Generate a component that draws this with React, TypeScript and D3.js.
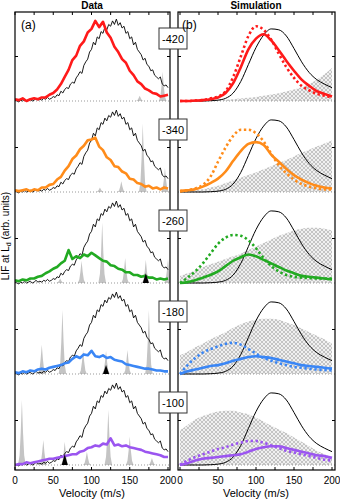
import * as d3 from 'd3';

// row labels and colours, top to bottom
const rowLabels = ['-420', '-340', '-260', '-180', '-100'];
const rowColors = ['#ff1a1a', '#ff8c1a', '#22aa22', '#3a86f5', '#9b55f0'];

const majorTicks = [0, 50, 100, 150, 200];
const minorTicks = [25, 75, 125, 175];

// measured reference signal (black), 2.5 m/s steps, same in every row
const refStep = 2.5;
const refData = [
  0.01, 0.0, -0.01, 0.01, 0.0, 0.02, 0.0, 0.01, 0.02, 0.0,
  0.01, 0.03, 0.01, 0.02, 0.01, 0.03, 0.02, 0.04, 0.02, 0.03,
  0.05, 0.04, 0.07, 0.06, 0.11, 0.09, 0.13, 0.15, 0.14, 0.19,
  0.21, 0.2, 0.26, 0.29, 0.33, 0.31, 0.4, 0.44, 0.47, 0.55,
  0.58, 0.66, 0.63, 0.72, 0.7, 0.78, 0.76, 0.83, 0.8, 0.86,
  0.84, 0.9, 0.86, 0.92, 0.85, 0.88, 0.82, 0.84, 0.76, 0.78,
  0.7, 0.72, 0.63, 0.66, 0.58, 0.55, 0.52, 0.46, 0.48, 0.41,
  0.39, 0.34, 0.35, 0.29, 0.27, 0.25, 0.27, 0.19, 0.17, 0.18, 0.15
];

// measured signals per row, 5 m/s steps
const dataStep = 5;
const data420 = [
  0.02, 0.01, 0.03, 0.0, 0.02, 0.03, 0.02, 0.04, 0.04, 0.07,
  0.09, 0.13, 0.19, 0.27, 0.35, 0.46, 0.51, 0.62, 0.67, 0.77,
  0.81, 0.9, 0.83, 0.89, 0.77, 0.71, 0.61, 0.55, 0.47, 0.43,
  0.34, 0.29, 0.22, 0.19, 0.14, 0.12, 0.09, 0.08, 0.05, 0.06, 0.07
];
const data340 = [
  0.02, 0.01, 0.02, 0.03, 0.01, 0.03, 0.02, 0.05, 0.05, 0.08,
  0.09, 0.14, 0.17, 0.24, 0.29, 0.37, 0.41, 0.48, 0.52, 0.58,
  0.59, 0.61, 0.51, 0.47, 0.39, 0.36, 0.29, 0.28, 0.23, 0.21,
  0.15, 0.14, 0.1, 0.09, 0.06, 0.07, 0.04, 0.05, 0.03, 0.05, 0.04
];
const data260 = [
  0.03, 0.02, 0.04, 0.03, 0.05, 0.05, 0.07, 0.08, 0.11, 0.13,
  0.16, 0.18, 0.22, 0.25, 0.37, 0.27, 0.3, 0.28, 0.32, 0.3,
  0.34, 0.31, 0.28, 0.25, 0.24, 0.2, 0.19, 0.16, 0.15, 0.12,
  0.12, 0.09, 0.09, 0.07, 0.08, 0.06, 0.06, 0.04, 0.05, 0.04, 0.05
];
const data180 = [
  0.02, 0.01, 0.03, 0.02, 0.04, 0.03, 0.05, 0.06, 0.05, 0.07,
  0.08, 0.09, 0.1, 0.12, 0.13, 0.17, 0.2, 0.18, 0.22, 0.21,
  0.26, 0.2, 0.19, 0.21, 0.18, 0.19, 0.16, 0.15, 0.14, 0.11,
  0.1, 0.09, 0.08, 0.07, 0.06, 0.06, 0.05, 0.04, 0.04, 0.03, 0.03
];
const data100 = [
  0.0, 0.01, 0.01, 0.03, 0.02, 0.03, 0.04, 0.05, 0.06, 0.07,
  0.07, 0.08, 0.09, 0.1, 0.11, 0.12, 0.12, 0.15, 0.16, 0.19,
  0.2, 0.22, 0.21, 0.24, 0.23, 0.3, 0.22, 0.23, 0.21, 0.22,
  0.2, 0.19, 0.18, 0.17, 0.15, 0.14, 0.13, 0.12, 0.11, 0.09, 0.09
];

// gray peaks [velocity, height] and black markers
const peaks420 = [[163, 0.06], [193, 0.33]];
const peaks340 = [[111, 0.05], [139, 0.12], [167, 0.77], [196, 0.27]];
const peaks260 = [[59, 0.05], [87, 0.25], [114, 0.68], [144, 0.28], [171, 0.26], [200, 0.27]];
const peaks180 = [[35, 0.33], [62, 0.72], [89, 0.27], [119, 0.26], [147, 0.27], [175, 0.72]];
const peaks100 = [[9, 0.73], [37, 0.28], [65, 0.26], [94, 0.15], [122, 0.62], [150, 0.32], [179, 0.08]];
const marks260 = [[171, 0.11]];
const marks180 = [[119, 0.1]];
const marks100 = [[65, 0.12]];

// simulation, 10 m/s steps
const simStep = 10;
const simRef = [0, 0, 0, 0, 0.003, 0.01, 0.03, 0.09, 0.22, 0.41, 0.6, 0.74, 0.81, 0.8, 0.73, 0.59, 0.44, 0.32, 0.24, 0.19, 0.15];

const sim420 = [0, 0, 0.005, 0.01, 0.02, 0.04, 0.09, 0.2, 0.38, 0.58, 0.7, 0.75, 0.68, 0.57, 0.45, 0.34, 0.24, 0.17, 0.11, 0.08, 0.05];
const sim420Dot = [0, 0, 0.005, 0.01, 0.03, 0.05, 0.11, 0.27, 0.5, 0.73, 0.84, 0.8, 0.69, 0.53, 0.38, 0.26, 0.17, 0.12, 0.08, 0.06, 0.04];
const hatch420 = [0, 0.002, 0.004, 0.006, 0.008, 0.011, 0.015, 0.02, 0.028, 0.036, 0.046, 0.058, 0.072, 0.088, 0.106, 0.128, 0.155, 0.19, 0.24, 0.3, 0.37];

const sim340 = [0.01, 0.02, 0.03, 0.06, 0.1, 0.15, 0.23, 0.35, 0.46, 0.54, 0.56, 0.53, 0.42, 0.34, 0.26, 0.19, 0.14, 0.1, 0.07, 0.05, 0.04];
const sim340Dot = [0.01, 0.02, 0.04, 0.08, 0.17, 0.34, 0.5, 0.63, 0.7, 0.7, 0.66, 0.57, 0.43, 0.3, 0.21, 0.14, 0.09, 0.06, 0.04, 0.03, 0.03];
const hatch340 = [0, 0.01, 0.02, 0.03, 0.05, 0.07, 0.1, 0.13, 0.16, 0.19, 0.22, 0.255, 0.29, 0.325, 0.36, 0.4, 0.44, 0.475, 0.51, 0.545, 0.58];

const sim260 = [0, 0.01, 0.03, 0.06, 0.09, 0.13, 0.19, 0.25, 0.29, 0.32, 0.3, 0.26, 0.22, 0.18, 0.14, 0.11, 0.08, 0.07, 0.06, 0.05, 0.04];
const sim260Dot = [0, 0.06, 0.13, 0.22, 0.33, 0.44, 0.51, 0.54, 0.53, 0.48, 0.39, 0.28, 0.19, 0.13, 0.09, 0.07, 0.06, 0.055, 0.05, 0.05, 0.05];
const hatch260 = [0.08, 0.11, 0.14, 0.18, 0.21, 0.24, 0.27, 0.3, 0.33, 0.37, 0.41, 0.45, 0.49, 0.53, 0.56, 0.59, 0.61, 0.62, 0.62, 0.61, 0.59];

const sim180 = [0, 0.03, 0.05, 0.07, 0.09, 0.1, 0.12, 0.15, 0.17, 0.19, 0.2, 0.19, 0.18, 0.16, 0.14, 0.12, 0.1, 0.09, 0.08, 0.07, 0.06];
const sim180Dot = [0, 0.1, 0.18, 0.24, 0.28, 0.31, 0.34, 0.35, 0.33, 0.28, 0.23, 0.18, 0.15, 0.12, 0.1, 0.08, 0.07, 0.06, 0.05, 0.045, 0.04];
const hatch180 = [0.21, 0.25, 0.3, 0.34, 0.39, 0.43, 0.47, 0.52, 0.56, 0.59, 0.61, 0.62, 0.62, 0.61, 0.58, 0.55, 0.51, 0.47, 0.43, 0.39, 0.34];

const sim100 = [0, 0.02, 0.05, 0.07, 0.08, 0.09, 0.1, 0.11, 0.12, 0.15, 0.18, 0.2, 0.21, 0.21, 0.19, 0.17, 0.15, 0.13, 0.11, 0.1, 0.08];
const sim100Dot = [0, 0.05, 0.09, 0.12, 0.15, 0.18, 0.2, 0.23, 0.25, 0.27, 0.27, 0.25, 0.22, 0.19, 0.16, 0.14, 0.12, 0.1, 0.08, 0.06, 0.05];
const hatch100 = [0.39, 0.45, 0.51, 0.55, 0.58, 0.6, 0.61, 0.61, 0.59, 0.57, 0.53, 0.49, 0.44, 0.4, 0.36, 0.31, 0.26, 0.21, 0.16, 0.12, 0.08];

const rowData = [data420, data340, data260, data180, data100];
const rowPeaks = [peaks420, peaks340, peaks260, peaks180, peaks100];
const rowMarks = [[], [], marks260, marks180, marks100];
const rowSim = [sim420, sim340, sim260, sim180, sim100];
const rowSimDot = [sim420Dot, sim340Dot, sim260Dot, sim180Dot, sim100Dot];
const rowHatch = [hatch420, hatch340, hatch260, hatch180, hatch100];

const font = 'Liberation Sans, Arial, sans-serif';

export default function App() {
  const top = 12;
  const bottom = 470;
  const rowH = 91;
  const plotH = 89;
  const left = { x0: 15, x1: 170 };
  const right = { x0: 178, x1: 335 };

  const xL = d3.scaleLinear().domain([0, 200]).range([15, 168]);
  const xR = d3.scaleLinear().domain([0, 200]).range([180, 332]);

  const rows = rowLabels.map((label, k) => {
    const rowTop = top + k * rowH;
    const y = d3.scaleLinear().domain([0, 1]).range([rowTop + plotH, rowTop]);
    return { label, k, rowTop, y, color: rowColors[k] };
  });

  // narrow, pointed gray peak
  const peakPath = (x, y, v, h) =>
    d3.line()([
      [x(v - 5), y(0)],
      [x(v - 3), y(h * 0.15)],
      [x(v - 1.5), y(h * 0.5)],
      [x(v), y(h)],
      [x(v + 1.5), y(h * 0.5)],
      [x(v + 3), y(h * 0.15)],
      [x(v + 5), y(0)]
    ]) + 'Z';

  return (
    <svg width={340} height={500} style={{ position: 'absolute', left: 0, top: 0, background: '#fff' }} fontFamily={font}>
      <defs>
        <pattern id='xhatch' width={4} height={4} patternUnits='userSpaceOnUse'>
          <rect width={4} height={4} fill='#f0f0f0' />
          <path d='M0,0L4,4M4,0L0,4' stroke='#a6a6a6' strokeWidth={0.6} />
        </pattern>
        <clipPath id='clipL'>
          <rect x={left.x0} y={top} width={left.x1 - left.x0} height={bottom - top} />
        </clipPath>
        <clipPath id='clipR'>
          <rect x={right.x0} y={top} width={right.x1 - right.x0} height={bottom - top} />
        </clipPath>
      </defs>

      {/* data panel */}
      <g clipPath='url(#clipL)'>
        {rows.map(({ k, y, color }) => {
          const line = d3.line().x((_, i) => xL(i * dataStep)).y((d) => y(d));
          const refLine = d3.line().x((_, i) => xL(i * refStep)).y((d) => y(d));
          return (
            <g key={k}>
              {rowPeaks[k].map(([v, h], i) => (
                <path key={i} d={peakPath(xL, y, v, h)} fill='#c4c4c4' />
              ))}
              <line x1={left.x0} x2={left.x1} y1={y(0)} y2={y(0)} stroke='#999' strokeDasharray='1,2' />
              <path d={refLine(refData)} fill='none' stroke='#000' strokeWidth={0.9} />
              <path d={line(rowData[k])} fill='none' stroke={color} strokeWidth={2.6} strokeLinejoin='round' />
              {rowMarks[k].map(([v, h], i) => (
                <path key={i} d={d3.line()([[xL(v - 4), y(0)], [xL(v), y(h)], [xL(v + 4), y(0)]]) + 'Z'} fill='#000' />
              ))}
            </g>
          );
        })}
      </g>

      {/* simulation panel */}
      <g clipPath='url(#clipR)'>
        {rows.map(({ k, y, color }) => {
          const line = d3.line().x((_, i) => xR(i * simStep)).y((d) => y(d)).curve(d3.curveMonotoneX);
          const area = d3.area().x((_, i) => xR(i * simStep)).y0(y(0)).y1((d) => y(d)).curve(d3.curveMonotoneX);
          return (
            <g key={k}>
              <path d={area(rowHatch[k])} fill='url(#xhatch)' />
              <line x1={right.x0} x2={right.x1} y1={y(0)} y2={y(0)} stroke='#999' strokeDasharray='1,2' />
              <path d={line(simRef)} fill='none' stroke='#000' strokeWidth={1} />
              <path d={line(rowSimDot[k])} fill='none' stroke={color} strokeWidth={2.6} strokeDasharray='2.4,2.6' />
              <path d={line(rowSim[k])} fill='none' stroke={color} strokeWidth={2.6} />
            </g>
          );
        })}
      </g>

      {/* frames and ticks */}
      {[{ p: left, x: xL }, { p: right, x: xR }].map(({ p, x }, j) => (
        <g key={j} stroke='#000'>
          <rect x={p.x0} y={top} width={p.x1 - p.x0} height={bottom - top} fill='none' strokeWidth={1.2} />
          {rows.map(({ k, y }) => (
            <g key={k}>
              <line x1={p.x0} x2={p.x0 + 3} y1={y(0.5)} y2={y(0.5)} />
              <line x1={p.x1} x2={p.x1 - 3} y1={y(0.5)} y2={y(0.5)} />
            </g>
          ))}
          {majorTicks.concat(minorTicks).map((t) => (
            <g key={t}>
              <line x1={x(t)} x2={x(t)} y1={top} y2={top + 3} />
              <line x1={x(t)} x2={x(t)} y1={bottom} y2={bottom - 3} />
            </g>
          ))}
        </g>
      ))}

      {/* tick labels */}
      {[xL, xR].map((x, j) =>
        majorTicks.map((t) => (
          <text key={j + '-' + t} x={x(t)} y={484} fontSize={10} textAnchor='middle'>
            {t}
          </text>
        ))
      )}

      {/* row labels */}
      {rows.map(({ label, k, rowTop }) => (
        <g key={k}>
          <rect x={159} y={rowTop + 16} width={28} height={21} fill='#fff' stroke='#333' strokeWidth={1} />
          <text x={173} y={rowTop + 30.5} fontSize={11} textAnchor='middle'>
            {label}
          </text>
        </g>
      ))}

      <text x={92} y={9} fontSize={10} fontWeight='bold' textAnchor='middle'>Data</text>
      <text x={256} y={9} fontSize={10} fontWeight='bold' textAnchor='middle'>Simulation</text>
      <text x={21} y={29} fontSize={12}>(a)</text>
      <text x={182} y={29} fontSize={12}>(b)</text>
      <text x={92} y={497} fontSize={11} textAnchor='middle'>Velocity (m/s)</text>
      <text x={256} y={497} fontSize={11} textAnchor='middle'>Velocity (m/s)</text>
      <text transform='translate(9,236) rotate(-90)' fontSize={10} textAnchor='middle'>
        LIF at L<tspan dy={2} fontSize={7}>d</tspan>
        <tspan dy={-2}> (arb. units)</tspan>
      </text>
    </svg>
  );
}
